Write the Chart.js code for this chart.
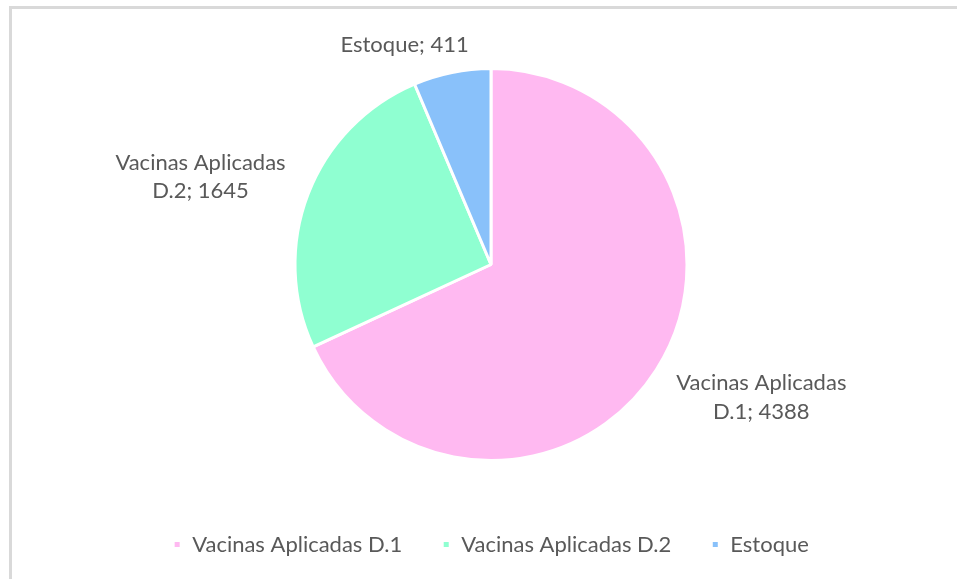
<!DOCTYPE html>
<html>
<head>
<meta charset="utf-8">
<script src="https://cdn.jsdelivr.net/npm/chart.js@4.4.1/dist/chart.umd.min.js"></script>
<style>
    html, body { margin: 0; padding: 0; background: #ffffff; }
    #wrap { position: relative; width: 957px; height: 579px; overflow: hidden; }
    #frame {
        position: absolute; left: 9px; top: 6px; width: 1000px; height: 700px;
        border-top: 3px solid #d9d9d9; border-left: 3px solid #d9d9d9;
    }
    #vacinas_chart { position: absolute; left: 0; top: 0; }
</style>
</head>
<body>
<div id="wrap">
    <div id="frame"></div>
    <canvas id="vacinas_chart" width="957" height="579"></canvas>
</div>
<script>
// データ
const categories = ['Vacinas Aplicadas D.1', 'Vacinas Aplicadas D.2', 'Estoque'];
const values = [4388, 1645, 411];
// ラベル用の改行 (Excel と同じ折り返し)
const label_lines = [
    ['Vacinas Aplicadas', 'D.1; 4388'],
    ['Vacinas Aplicadas', 'D.2; 1645'],
    ['Estoque; 411'],
];

// 見た目の設定
const slice_colors = ['#ffb9f1', '#8fffd1', '#89c1fa'];
// ラベル位置 (円の中心からの相対位置, 半径に対する比率)
const label_anchors = [[1.379, 0.678], [-1.482, -0.447], [-0.441, -1.121]];
const font_family = 'Lato, "Open Sans", sans-serif';
const font_size = 22;
const text_color = '#595959';

// データラベルを描画するプラグイン
const outsideLabels = {
    id: 'outsideLabels',
    afterDatasetsDraw(chart) {
        const ctx = chart.ctx;
        const meta = chart.getDatasetMeta(0);
        ctx.save();
        ctx.font = font_size + 'px ' + font_family;
        ctx.fillStyle = text_color;
        ctx.textAlign = 'center';
        ctx.textBaseline = 'middle';
        meta.data.forEach(function(arc, i) {
            const r = arc.outerRadius;
            const cx = arc.x + label_anchors[i][0] * r;
            const cy = arc.y + label_anchors[i][1] * r;
            const lines = label_lines[i];
            const line_height = 28.5;
            const start = cy - (lines.length - 1) * line_height / 2;
            lines.forEach(function(line, j) {
                ctx.fillText(line, cx, start + j * line_height);
            });
        });
        ctx.restore();
    }
};

const ctx = document.getElementById('vacinas_chart').getContext('2d');
const chart = new Chart(ctx, {
    type: 'pie',
    data: {
        labels: categories,
        datasets: [{
            data: values,
            backgroundColor: slice_colors,
            borderColor: '#ffffff',
            borderWidth: 3,
            radius: 196,
        }]
    },
    options: {
        responsive: false,
        animation: false,
        layout: {
            padding: { left: 25, right: 0, top: 35.5, bottom: 13.5 }
        },
        plugins: {
            legend: {
                position: 'bottom',
                labels: {
                    boxWidth: 8,
                    boxHeight: 8,
                    padding: 40,
                    color: text_color,
                    font: { family: font_family, size: font_size }
                }
            },
            tooltip: { enabled: false }
        }
    },
    plugins: [outsideLabels]
});
</script>
</body>
</html>
